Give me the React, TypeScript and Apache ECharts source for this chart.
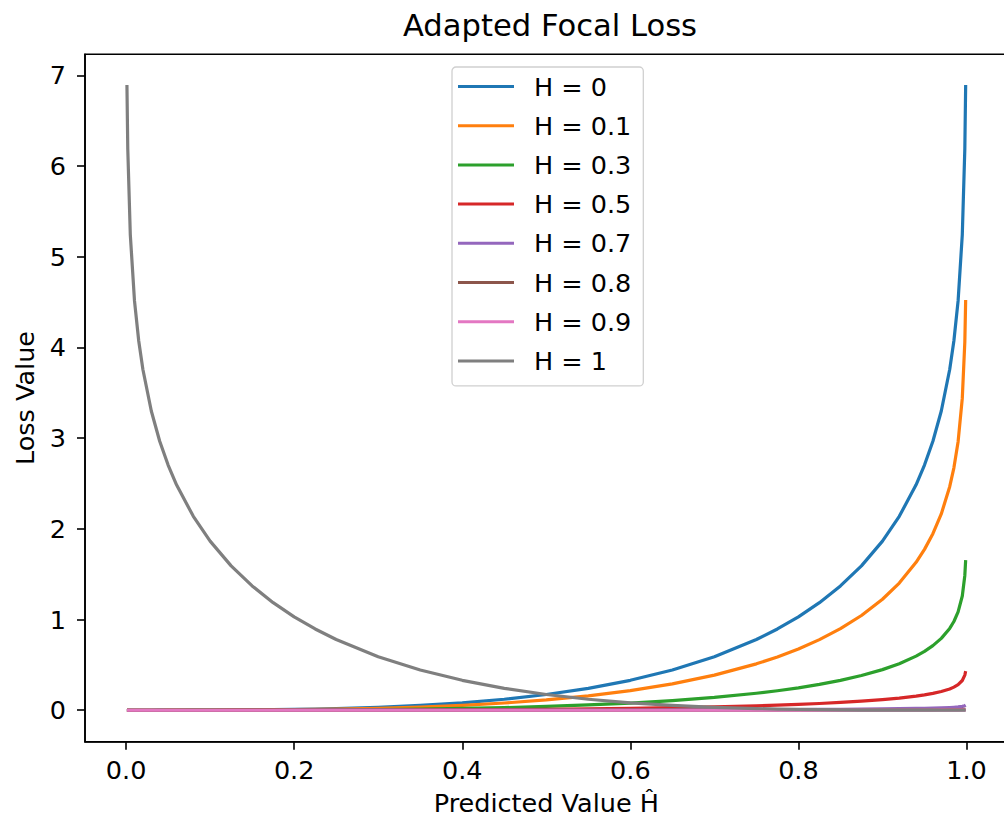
import React, { useEffect, useRef } from "react";
import * as echarts from "echarts";

const predicted = [0.001, 0.002, 0.005, 0.01, 0.015, 0.02, 0.03, 0.04, 0.05, 0.06, 0.08, 0.1, 0.125, 0.15, 0.175, 0.2, 0.225, 0.25, 0.3, 0.35, 0.4, 0.45, 0.5, 0.55, 0.6, 0.65, 0.7, 0.75, 0.775, 0.8, 0.825, 0.85, 0.875, 0.9, 0.92, 0.94, 0.95, 0.96, 0.97, 0.98, 0.985, 0.99, 0.995, 0.998, 0.999];

const lossH0 = [0, 0, 0, 0, 0, 0, 0, 0.0001, 0.0001, 0.0002, 0.0005, 0.0011, 0.0021, 0.0037, 0.0059, 0.0089, 0.0129, 0.018, 0.0321, 0.0528, 0.0817, 0.1211, 0.1733, 0.2416, 0.3299, 0.4436, 0.5899, 0.7798, 0.8959, 1.03, 1.1863, 1.3707, 1.5921, 1.8651, 2.1378, 2.4859, 2.7036, 2.9665, 3.2993, 3.7571, 4.0747, 4.5135, 5.2455, 6.1898, 6.894];
const lossH01 = [0, 0, 0, 0, 0, 0, 0, 0, 0.0001, 0.0001, 0.0004, 0.0007, 0.0014, 0.0024, 0.0039, 0.0059, 0.0085, 0.0118, 0.0211, 0.0346, 0.0536, 0.0795, 0.1137, 0.1585, 0.2164, 0.291, 0.387, 0.5116, 0.5878, 0.6758, 0.7783, 0.8993, 1.0446, 1.2237, 1.4026, 1.631, 1.7738, 1.9463, 2.1647, 2.465, 2.6734, 2.9613, 3.4415, 4.0611, 4.5231];
const lossH03 = [0, 0, 0, 0, 0, 0, 0, 0, 0, 0, 0.0001, 0.0003, 0.0005, 0.0009, 0.0014, 0.0021, 0.0031, 0.0043, 0.0077, 0.0127, 0.0196, 0.0291, 0.0416, 0.058, 0.0792, 0.1065, 0.1416, 0.1872, 0.2151, 0.2473, 0.2848, 0.3291, 0.3823, 0.4478, 0.5133, 0.5969, 0.6491, 0.7123, 0.7922, 0.9021, 0.9783, 1.0837, 1.2594, 1.4862, 1.6552];
const lossH05 = [0, 0, 0, 0, 0, 0, 0, 0, 0, 0, 0, 0, 0.0001, 0.0002, 0.0004, 0.0006, 0.0008, 0.0011, 0.002, 0.0033, 0.0051, 0.0076, 0.0108, 0.0151, 0.0206, 0.0277, 0.0369, 0.0487, 0.056, 0.0644, 0.0741, 0.0857, 0.0995, 0.1166, 0.1336, 0.1554, 0.169, 0.1854, 0.2062, 0.2348, 0.2547, 0.2821, 0.3278, 0.3869, 0.4309];
const lossH07 = [0, 0, 0, 0, 0, 0, 0, 0, 0, 0, 0, 0, 0, 0, 0, 0.0001, 0.0001, 0.0001, 0.0003, 0.0004, 0.0007, 0.001, 0.0014, 0.002, 0.0027, 0.0036, 0.0048, 0.0063, 0.0073, 0.0083, 0.0096, 0.0111, 0.0129, 0.0151, 0.0173, 0.0201, 0.0219, 0.024, 0.0267, 0.0304, 0.033, 0.0366, 0.0425, 0.0501, 0.0558];
const lossH08 = [0, 0, 0, 0, 0, 0, 0, 0, 0, 0, 0, 0, 0, 0, 0, 0, 0, 0, 0, 0, 0.0001, 0.0002, 0.0003, 0.0004, 0.0005, 0.0007, 0.0009, 0.0012, 0.0014, 0.0016, 0.0019, 0.0022, 0.0025, 0.003, 0.0034, 0.004, 0.0043, 0.0047, 0.0053, 0.006, 0.0065, 0.0072, 0.0084, 0.0099, 0.011];
const lossH09 = [0, 0, 0, 0, 0, 0, 0, 0, 0, 0, 0, 0, 0, 0, 0, 0, 0, 0, 0, 0, 0, 0, 0, 0, 0, 0, 0, 0, 0.0001, 0.0001, 0.0001, 0.0001, 0.0002, 0.0002, 0.0002, 0.0002, 0.0003, 0.0003, 0.0003, 0.0004, 0.0004, 0.0005, 0.0005, 0.0006, 0.0007];
const lossH1 = [6.894, 6.1898, 5.2455, 4.5135, 4.0747, 3.7571, 3.2993, 2.9665, 2.7036, 2.4859, 2.1378, 1.8651, 1.5921, 1.3707, 1.1863, 1.03, 0.8959, 0.7798, 0.5899, 0.4436, 0.3299, 0.2416, 0.1733, 0.1211, 0.0817, 0.0528, 0.0321, 0.018, 0.0129, 0.0089, 0.0059, 0.0037, 0.0021, 0.0011, 0.0005, 0.0002, 0.0001, 0.0001, 0, 0, 0, 0, 0, 0, 0];

const seriesNames = ["H = 0", "H = 0.1", "H = 0.3", "H = 0.5", "H = 0.7", "H = 0.8", "H = 0.9", "H = 1"];
const seriesValues = [lossH0, lossH01, lossH03, lossH05, lossH07, lossH08, lossH09, lossH1];
const colors = ["#1f77b4", "#ff7f0e", "#2ca02c", "#d62728", "#9467bd", "#8c564b", "#e377c2", "#7f7f7f"];

const xTicks = [0, 0.2, 0.4, 0.6, 0.8, 1.0];
const yTicks = [0, 1, 2, 3, 4, 5, 6, 7];

const FONT = "DejaVu Sans";
const FS = 25.5;

export default function App() {
  const ref = useRef<HTMLDivElement>(null);
  useEffect(() => {
    if (!ref.current) return;
    const chart = echarts.init(ref.current, null, { renderer: "svg" });
    chart.setOption({
      animation: false,
      backgroundColor: "#fff",
      textStyle: { fontFamily: FONT },
      title: {
        text: "Adapted Focal Loss",
        left: 545,
        textAlign: "center",
        top: 5,
        textStyle: { fontFamily: FONT, fontSize: 30.6, fontWeight: "normal", color: "#000" },
      },
      legend: {
        orient: "vertical",
        left: 452,
        top: 67,
        data: seriesNames,
        icon: "rect",
        itemWidth: 56,
        itemHeight: 3,
        itemGap: 9.2,
        padding: [4.5, 12, 10, 6],
        borderColor: "#d0d0d0",
        borderWidth: 1.3,
        borderRadius: 4,
        backgroundColor: "#fff",
        textStyle: { fontFamily: FONT, fontSize: FS, color: "#000", lineHeight: 30, padding: [0, 0, 0, 15] },
      },
      grid: { left: 85, top: 54.3, right: 4.4, bottom: 79.3, show: true, borderColor: "#000", borderWidth: 1.6, backgroundColor: "transparent" },
      xAxis: {
        type: "value",
        min: -0.0489,
        max: 1.0489,
        name: "Predicted Value Ĥ",
        nameLocation: "middle",
        nameGap: 48,
        nameTextStyle: { fontFamily: FONT, fontSize: FS, color: "#000" },
        axisLine: { show: true, onZero: false, lineStyle: { color: "#000", width: 1.6 } },
        axisTick: { show: true, length: 8, lineStyle: { color: "#000", width: 1.6 }, customValues: xTicks },
        axisLabel: { fontFamily: FONT, fontSize: FS, color: "#000", margin: 15, customValues: xTicks, formatter: (v: number) => v.toFixed(1) },
        splitLine: { show: false },
      },
      yAxis: {
        type: "value",
        min: -0.347,
        max: 7.233,
        name: "Loss Value",
        nameLocation: "middle",
        nameGap: 47,
        nameRotate: 90,
        nameTextStyle: { fontFamily: FONT, fontSize: FS, color: "#000" },
        axisLine: { show: true, onZero: false, lineStyle: { color: "#000", width: 1.6 } },
        axisTick: { show: true, length: 8, lineStyle: { color: "#000", width: 1.6 }, customValues: yTicks },
        axisLabel: { fontFamily: FONT, fontSize: FS, color: "#000", margin: 19, customValues: yTicks, formatter: (v: number) => String(Math.round(v)) },
        splitLine: { show: false },
      },
      series: seriesNames.map((name, i) => ({
        name,
        type: "line",
        data: predicted.map((x, j) => [x, seriesValues[i][j]]),
        showSymbol: false,
        symbol: "none",
        smooth: false,
        lineStyle: { color: colors[i], width: 3.2, join: "round", cap: "butt" },
        itemStyle: { color: colors[i] },
        clip: true,
      })),
    });
    return () => chart.dispose();
  }, []);
  return <div ref={ref} style={{ position: "fixed", left: 0, top: 0, width: 1012, height: 821 }} />;
}
